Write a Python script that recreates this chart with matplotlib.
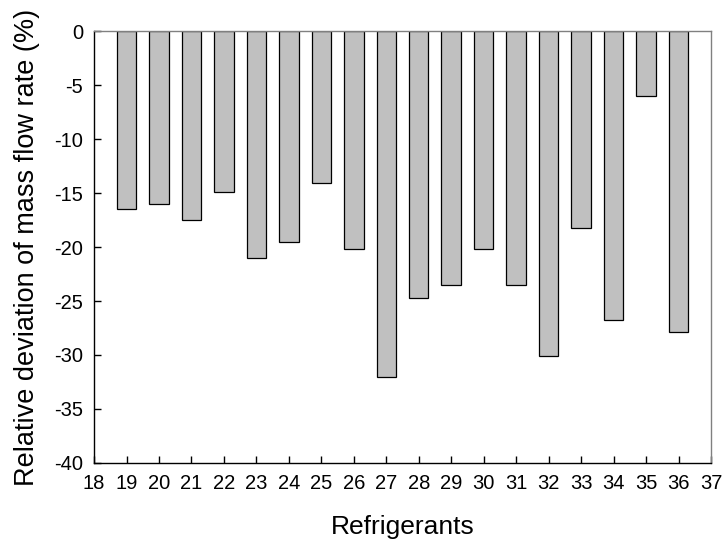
import matplotlib
matplotlib.use("Agg")
import matplotlib.pyplot as plt

plt.rcParams['font.family'] = ['Liberation Sans', 'DejaVu Sans']
plt.rcParams['axes.unicode_minus'] = False

refrigerants = list(range(19, 37))
deviation = [-16.5, -16.0, -17.5, -14.9, -21.0, -19.5, -14.1, -20.2, -32.0,
             -24.7, -23.5, -20.2, -23.5, -30.1, -18.2, -26.8, -6.05, -27.9]
x_ticks = list(range(18, 38))
y_ticks = list(range(-40, 1, 5))

fig = plt.figure(figsize=(7.25, 5.5), dpi=100)
ax = fig.add_axes([0.1297, 0.1582, 0.851, 0.7854])

ax.bar(refrigerants, deviation, width=0.6, color='#c0c0c0',
       edgecolor='black', linewidth=0.9)

ax.set_xlim(18, 37)
ax.set_ylim(-40, 0)
ax.set_xticks(x_ticks)
ax.set_yticks(y_ticks)
ax.tick_params(direction='in', length=5, width=1, labelsize=14.5,
               colors='black')
ax.tick_params(axis='x', pad=8)
ax.tick_params(axis='y', pad=8)

for side in ('left', 'bottom'):
    ax.spines[side].set_color('black')
    ax.spines[side].set_linewidth(1.0)
for side in ('top', 'right'):
    ax.spines[side].set_color('#808080')
    ax.spines[side].set_linewidth(1.0)

ax.set_xlabel('Refrigerants', fontsize=19, labelpad=16)
ax.set_ylabel('Relative deviation of mass flow rate (%)', fontsize=19.5, labelpad=10)

fig.savefig('out.png', dpi=100)
